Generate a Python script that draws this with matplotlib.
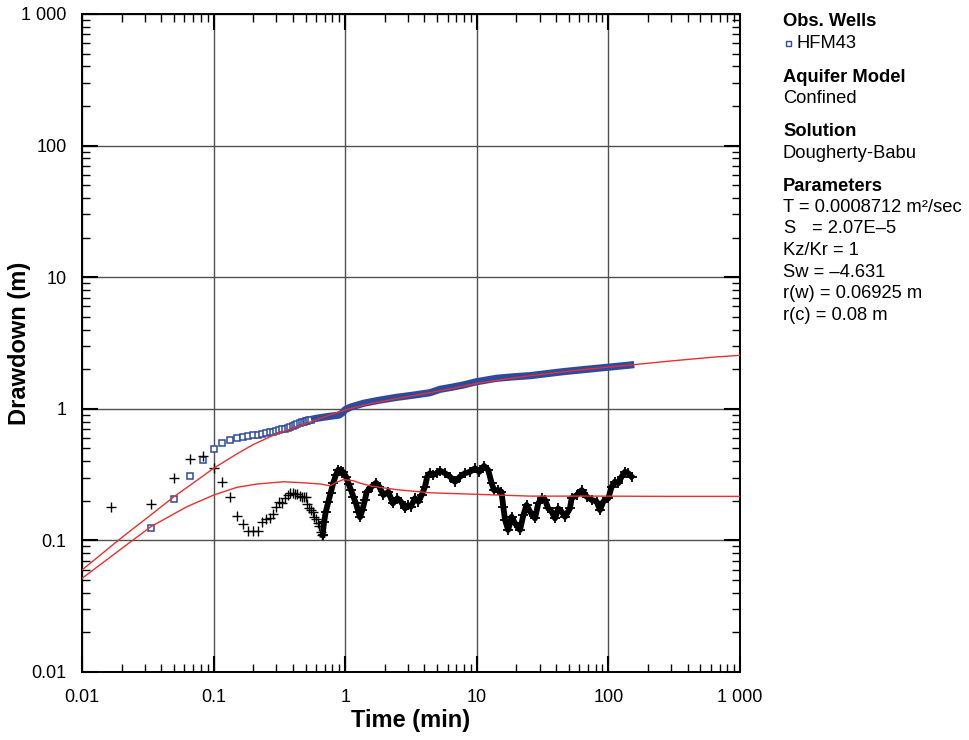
import numpy as np
import matplotlib.pyplot as plt
from matplotlib.lines import Line2D
from matplotlib.ticker import LogLocator, FixedLocator, FixedFormatter, NullFormatter

plt.rcParams['font.family'] = ['Liberation Sans', 'DejaVu Sans']

# Observed drawdown, early record logged every second
obs_sec = [2, 3, 4, 5, 6, 7, 8, 9, 10, 11, 12, 13, 14, 15, 16, 17, 18, 19, 20,
           21, 22, 23, 24, 25, 26, 27, 28, 29, 30, 31, 32, 33]
obs_early = [0.125, 0.205, 0.309, 0.408, 0.492, 0.547, 0.579, 0.597, 0.61, 0.62,
             0.628, 0.636, 0.645, 0.655, 0.662, 0.668, 0.675, 0.687, 0.699, 0.708,
             0.716, 0.731, 0.742, 0.755, 0.766, 0.775, 0.787, 0.797, 0.807, 0.812,
             0.82, 0.826]

# Observed drawdown, dense part of the record (min, m)
obs_t = [0.55, 0.6, 0.667, 0.75, 0.833, 0.9, 0.95, 1.0, 1.1, 1.374, 1.8, 2.46,
         3.3, 4.41, 5.25, 6.5, 7.89, 9.98, 14.2, 19.0, 25.4, 34.0, 45.4, 60.0,
         81.5, 110, 146, 157]
obs_s = [0.83, 0.845, 0.86, 0.875, 0.887, 0.897, 0.93, 0.985, 1.03, 1.10, 1.16,
         1.222, 1.27, 1.325, 1.406, 1.46, 1.517, 1.607, 1.706, 1.75, 1.786, 1.85,
         1.915, 1.97, 2.03, 2.09, 2.15, 2.17]

# Derivative of observed drawdown, early part
deriv_sec = [1, 2, 3, 4, 5, 6, 7, 8, 9, 10, 11, 12, 13, 14, 15, 16, 17, 18, 19,
             20, 21, 22, 23, 24, 25, 26, 27, 28, 29, 30, 31, 32, 33, 34, 35, 36,
             37, 38, 39, 40]
deriv_early = [0.180, 0.190, 0.296, 0.415, 0.438, 0.357, 0.279, 0.215, 0.153,
               0.133, 0.118, 0.118, 0.118, 0.139, 0.145, 0.147, 0.159, 0.180,
               0.197, 0.191, 0.209, 0.221, 0.228, 0.228, 0.226, 0.224, 0.217,
               0.213, 0.212, 0.212, 0.19, 0.175, 0.17, 0.165, 0.151, 0.145,
               0.135, 0.128, 0.116, 0.110]

# Derivative, dense part (min, m)
deriv_t = [0.674, 0.69, 0.71, 0.745, 0.776, 0.813, 0.85, 0.887, 0.93, 0.968,
           1.014, 1.06, 1.107, 1.153, 1.208, 1.259, 1.295, 1.35, 1.413, 1.456,
           1.59, 1.714, 1.816, 1.95, 2.13, 2.30, 2.49, 2.65, 2.85, 3.0, 3.15,
           3.39, 3.6, 3.81, 4.04, 4.2, 4.4, 4.67, 4.95, 5.25, 5.73, 6.25, 6.83,
           7.45, 8.13, 8.87, 9.68, 10.45, 11.35, 12.2, 12.97, 13.5, 14.6, 15.4,
           15.9, 16.4, 17.3, 18.4, 19.5, 21.3, 22.6, 23.9, 25.4, 27.7, 29.3,
           31.1, 33.0, 34.9, 37.1, 39.3, 41.6, 44.2, 46.8, 51.0, 52.6, 57.4,
           62.7, 68.4, 74.7, 81.5, 86.3, 91.4, 99.8, 105.9, 112, 119, 126,
           133.7, 141.5, 150]
deriv_s = [0.110, 0.137, 0.163, 0.197, 0.231, 0.275, 0.314, 0.345, 0.339, 0.330,
           0.305, 0.270, 0.241, 0.215, 0.191, 0.165, 0.150, 0.170, 0.203, 0.234,
           0.256, 0.274, 0.256, 0.221, 0.234, 0.191, 0.209, 0.197, 0.175, 0.185,
           0.180, 0.209, 0.197, 0.221, 0.256, 0.305, 0.324, 0.314, 0.324, 0.339,
           0.324, 0.305, 0.279, 0.305, 0.324, 0.332, 0.353, 0.332, 0.368, 0.343,
           0.272, 0.241, 0.241, 0.234, 0.180, 0.143, 0.120, 0.151, 0.135, 0.120,
           0.156, 0.186, 0.165, 0.147, 0.191, 0.209, 0.203, 0.175, 0.165, 0.147,
           0.175, 0.165, 0.151, 0.175, 0.209, 0.221, 0.241, 0.215, 0.203, 0.197,
           0.170, 0.197, 0.209, 0.256, 0.279, 0.272, 0.305, 0.332, 0.324, 0.305]

# Dougherty-Babu type curve and its derivative
model_t = [0.01, 0.02, 0.0333, 0.05, 0.07, 0.1, 0.15, 0.2, 0.3, 0.48, 0.7, 1.0,
           1.4, 2.0, 3.0, 4.4, 7.0, 10, 15, 25, 45, 80, 146, 300, 600, 1000]
model_s = [0.0596, 0.105, 0.156, 0.215, 0.273, 0.353, 0.454, 0.535, 0.645, 0.76,
           0.87, 0.98, 1.07, 1.15, 1.24, 1.325, 1.45, 1.56, 1.66, 1.78, 1.91,
           2.03, 2.15, 2.31, 2.46, 2.55]
mderiv_t = [0.01, 0.02, 0.0333, 0.0624, 0.1, 0.15, 0.213, 0.339, 0.481, 0.65,
            0.766, 0.85, 0.97, 1.15, 1.3, 1.6, 2.46, 4.41, 9.98, 25.4, 81.5, 300,
            1000]
mderiv_s = [0.0515, 0.0867, 0.127, 0.180, 0.221, 0.253, 0.268, 0.279, 0.274,
            0.268, 0.26, 0.275, 0.29, 0.284, 0.272, 0.258, 0.243, 0.230, 0.224,
            0.217, 0.217, 0.216, 0.216]

decades = [0.01, 0.1, 1, 10, 100, 1000]
decade_labels = ['0.01', '0.1', '1', '10', '100', '1 000']

blue = '#2d4b9d'
red = '#e8302e'

fig = plt.figure(figsize=(9.69, 7.40), dpi=100)
ax = fig.add_axes([82 / 969, 68 / 740, 658 / 969, 658 / 740])
ax.set_xscale('log')
ax.set_yscale('log')
ax.set_xlim(0.01, 1000)
ax.set_ylim(0.01, 1000)

# observed drawdown: sparse squares, then a solid band where points pile up
ax.plot(np.array(obs_sec) / 60.0, obs_early, ls='none', marker='s', ms=4,
        mfc='white', mec=blue, mew=1.1, zorder=3)
ax.plot(obs_t, obs_s, color=blue, lw=5.2, solid_capstyle='butt', zorder=3)

# derivative
ax.plot(np.array(deriv_sec) / 60.0, deriv_early, ls='none', marker='+', ms=6.5,
        mew=1.0, color='black', zorder=3)
ax.plot(deriv_t, deriv_s, color='black', lw=4.2, zorder=3)
ax.plot(deriv_t, deriv_s, ls='none', marker='+', ms=7, mew=1.3, color='black',
        zorder=3)

# type curves
ax.plot(model_t, model_s, color=red, lw=1.0, zorder=4)
ax.plot(mderiv_t, mderiv_s, color=red, lw=1.0, zorder=4)

for axis in (ax.xaxis, ax.yaxis):
    axis.set_major_locator(FixedLocator(decades))
    axis.set_major_formatter(FixedFormatter(decade_labels))
    axis.set_minor_locator(LogLocator(base=10, subs=np.arange(2, 10)))
    axis.set_minor_formatter(NullFormatter())

ax.grid(True, which='major', color='#505050', lw=1.0, zorder=1)
ax.tick_params(which='both', direction='in', top=True, right=True,
               colors='black', labelsize=13)
ax.tick_params(which='major', length=11.5, width=1.5)
ax.tick_params(which='minor', length=5.8, width=1.0)
ax.tick_params(axis='x', which='major', pad=12)
ax.tick_params(axis='y', which='major', pad=11)
for sp in ax.spines.values():
    sp.set_linewidth(1.4)

fig.text(411 / 969, 1 - 720 / 740, 'Time (min)', ha='center', va='center',
         fontsize=17, fontweight='bold')
fig.text(20 / 969, 1 - 343 / 740, 'Drawdown (m)', ha='center', va='center',
         rotation=90, fontsize=17, fontweight='bold')

# side panel
x0 = 783 / 969
panel = [
    (21.7, 'Obs. Wells', 'bold'),
    (77.3, 'Aquifer Model', 'bold'),
    (98.3, 'Confined', 'normal'),
    (131.7, 'Solution', 'bold'),
    (153.3, 'Dougherty-Babu', 'normal'),
    (186.7, 'Parameters', 'bold'),
    (207.3, 'T = 0.0008712 m\u00b2/sec', 'normal'),
    (228.7, 'S', 'normal'),
    (250.7, 'Kz/Kr = 1', 'normal'),
    (272.7, 'Sw = \u20134.631', 'normal'),
    (294.0, 'r(w) = 0.06925 m', 'normal'),
    (315.0, 'r(c) = 0.08 m', 'normal'),
]
for ypx, txt, wt in panel:
    fig.text(x0, 1 - ypx / 740, txt, ha='left', va='center', fontsize=13.2,
             fontweight=wt)
fig.text(812 / 969, 1 - 228.7 / 740, '= 2.07E\u20135', ha='left', va='center',
         fontsize=13.2)
fig.text(797 / 969, 1 - 43.3 / 740, 'HFM43', ha='left', va='center',
         fontsize=13.2)
fig.add_artist(Line2D([788 / 969], [1 - 43.3 / 740], transform=fig.transFigure,
                      ls='none', marker='s', ms=3.6, mfc='white', mec=blue,
                      mew=1.0))

fig.savefig('out.png', dpi=100, facecolor='white')
